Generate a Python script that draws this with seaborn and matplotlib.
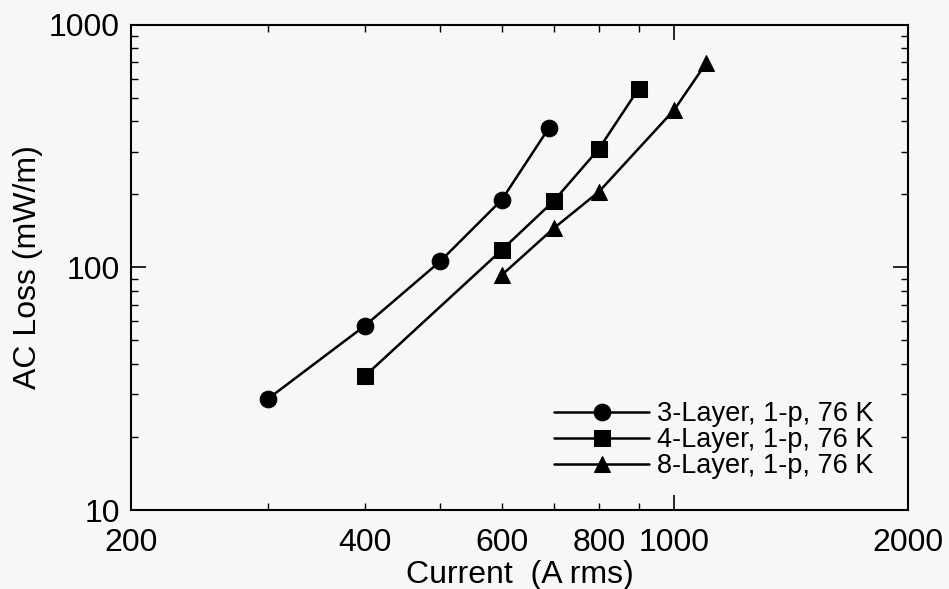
import numpy as np
import pandas as pd
import matplotlib
matplotlib.use("Agg")
import matplotlib.pyplot as plt
from matplotlib.ticker import FixedLocator, FuncFormatter, NullFormatter
import seaborn as sns

# data (log-log)
labels = ["3-Layer, 1-p, 76 K", "4-Layer, 1-p, 76 K", "8-Layer, 1-p, 76 K"]
current_3 = [300, 400, 500, 600, 690]
loss_3 = [28.7, 57.5, 106, 190, 376]
current_4 = [400, 600, 700, 800, 900]
loss_4 = [35.7, 118, 188, 308, 545]
current_8 = [600, 700, 800, 1000, 1100]
loss_8 = [93, 145, 205, 446, 697]

df = pd.concat([
    pd.DataFrame({"current": current_3, "loss": loss_3, "series": labels[0]}),
    pd.DataFrame({"current": current_4, "loss": loss_4, "series": labels[1]}),
    pd.DataFrame({"current": current_8, "loss": loss_8, "series": labels[2]}),
])

bg = "#f7f7f7"
sns.set_style("ticks")
plt.rcParams["font.family"] = ["Liberation Sans", "DejaVu Sans"]
plt.rcParams["text.color"] = "black"
plt.rcParams["axes.labelcolor"] = "black"

fig = plt.figure(figsize=(9.49, 5.89), dpi=100, facecolor=bg)
ax = fig.add_axes([0.138, 0.134, 0.819, 0.824], facecolor=bg)

sns.lineplot(data=df, x="current", y="loss", hue="series", style="series",
             palette=["black"] * 3, markers=["o", "s", "^"], dashes=False,
             markersize=12, linewidth=1.8, markeredgecolor="black",
             sort=False, ax=ax)

ax.set_xscale("log")
ax.set_yscale("log")
ax.set_xlim(200, 2000)
ax.set_ylim(10, 1000)

ax.xaxis.set_major_locator(FixedLocator([200, 1000, 2000]))
ax.xaxis.set_major_formatter(FuncFormatter(lambda v, p: f"{v:g}"))
ax.xaxis.set_minor_locator(FixedLocator([300, 400, 500, 600, 700, 800, 900]))
ax.xaxis.set_minor_formatter(FuncFormatter(lambda v, p: f"{v:g}" if v in (400, 600, 800) else ""))

ax.yaxis.set_major_locator(FixedLocator([10, 100, 1000]))
ax.yaxis.set_major_formatter(FuncFormatter(lambda v, p: f"{v:g}"))
ax.yaxis.set_minor_locator(FixedLocator(list(range(20, 100, 10)) + list(range(200, 1000, 100))))
ax.yaxis.set_minor_formatter(NullFormatter())

ax.tick_params(which="both", direction="in", top=True, right=True, colors="black",
               labelsize=23, pad=8)
ax.tick_params(axis="x", which="both", pad=13)
ax.tick_params(which="major", length=11, width=1.2)
ax.tick_params(which="minor", length=5, width=1.0)
for s in ax.spines.values():
    s.set_linewidth(1.5)
    s.set_color("black")

ax.set_xlabel("Current  (A rms)", fontsize=23, labelpad=1)
ax.set_ylabel("AC Loss (mW/m)", fontsize=23, labelpad=4)

leg = ax.legend(loc="lower right", bbox_to_anchor=(0.98, 0.025), frameon=False,
                fontsize=19.5, handlelength=3.5, handletextpad=0.3,
                labelspacing=0.0, borderpad=0.2)
for h in leg.legend_handles:
    h.set_markersize(12)

fig.savefig("out.png", dpi=100, facecolor=bg)
